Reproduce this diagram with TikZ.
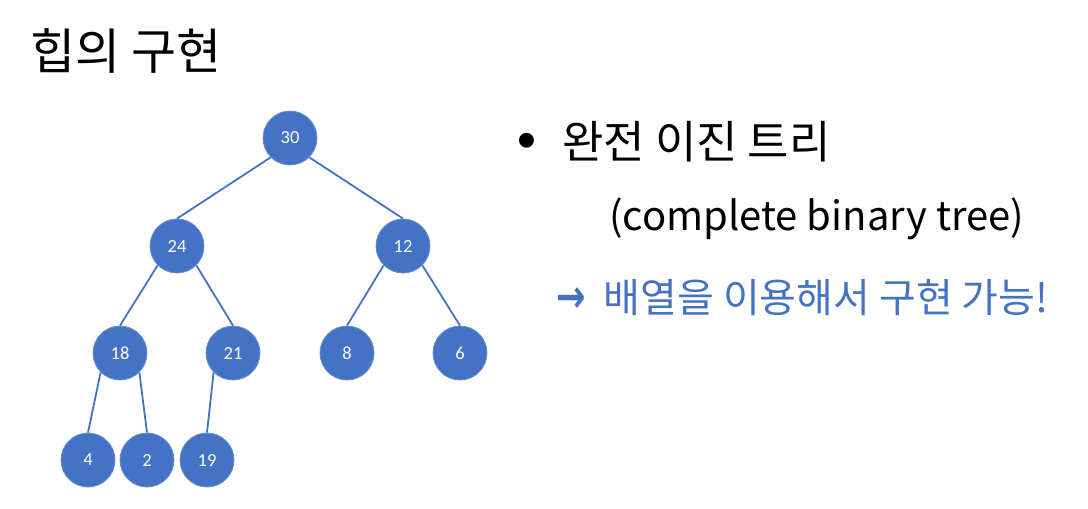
\documentclass[tikz,border=0pt]{standalone}
\usepackage{fontspec}
\setmainfont{Carlito}
\newfontfamily\kofont{Noto Sans CJK KR}
\newfontfamily\symfont{DejaVu Sans}
\usetikzlibrary{positioning}
\definecolor{heap-blue}{RGB}{68,114,196}
\tikzset{
  heapnode/.style={circle, fill=heap-blue, draw=heap-blue!80!white, line width=0.8pt, minimum size=54pt, inner sep=0pt, text=white, font=\fontsize{18.5}{18.5}\selectfont},
  heapedge/.style={heap-blue, line width=1.8pt},
  slidetext/.style={anchor=west, inner sep=0pt, font=\kofont\fontsize{40}{48}\selectfont}
}

\begin{document}
\begin{tikzpicture}[x=1pt, y=-1pt]
    % Page frame
    \useasboundingbox (0,0) rectangle (1088,509);

    % Title
    \node[slidetext, font=\kofont\fontsize{49}{56}\selectfont] (title) at (30,51) {힙의 구현};

    % Heap nodes - level by level
    \node[heapnode] (n30) at (290,138) {30};
    \node[heapnode] (n24) at (177,246) {24};
    \node[heapnode] (n12) at (403,246) {12};
    \node[heapnode] (n18) at (120,353) {18};
    \node[heapnode] (n21) at (233,353) {21};
    \node[heapnode] (n8) at (347,353) {8};
    \node[heapnode] (n6) at (460,353) {6};
    \node[heapnode] (n4) at (88,460) {4};
    \node[heapnode] (n2) at (147,460) {2};
    \node[heapnode] (n19) at (207,460) {19};

    % Tree edges
    \draw[heapedge] (n30.south west) -- (n24.north);
    \draw[heapedge] (n30.south east) -- (n12.north);
    \draw[heapedge] (n24.south west) -- (n18.north);
    \draw[heapedge] (n24.south east) -- (n21.north);
    \draw[heapedge] (n12.south west) -- (n8.north);
    \draw[heapedge] (n12.south east) -- (n6.north);
    \draw[heapedge] (n18.south west) -- (n4.north);
    \draw[heapedge] (n18.south east) -- (n2.north);
    \draw[heapedge] (n21.south west) -- (n19.north);

    % Right-hand text
    \node[inner sep=0pt, font=\fontsize{42}{42}\selectfont] (dot) at (527,143) {•};
    \node[slidetext, font=\kofont\fontsize{45}{50}\selectfont] (cbt) at (562,142) {완전 이진 트리};
    \node[slidetext] (cbten) at (609,219) {(complete binary tree)};
    \node[slidetext, text=heap-blue] (array) at (556,298) {\scalebox{0.8}[1.05]{\symfont\bfseries\fontsize{44}{44}\selectfont →}\hspace{18pt}배열을 이용해서 구현 가능!};
\end{tikzpicture}
\end{document}
